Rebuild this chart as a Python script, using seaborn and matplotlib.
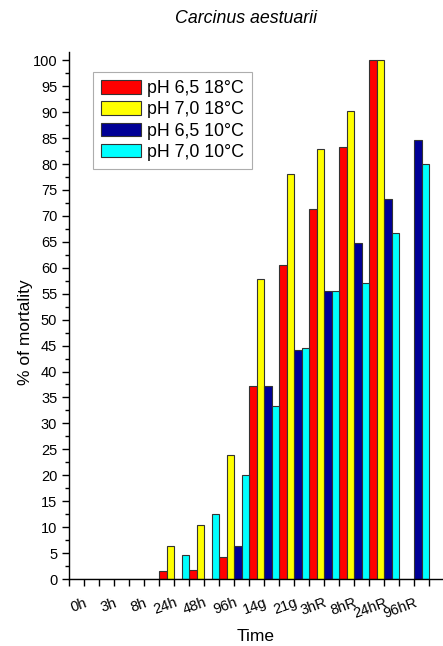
import numpy as np
import pandas as pd
import matplotlib
matplotlib.use("Agg")
import matplotlib.pyplot as plt
import seaborn as sns
from matplotlib.ticker import MultipleLocator, FixedLocator

# Data
times = ["0h", "3h", "8h", "24h", "48h", "96h", "14g", "21g", "3hR", "8hR", "24hR", "96hR"]
ph65_18 = [0, 0, 0, 1.5, 1.8, 4.2, 37.2, 60.5, 71.4, 83.3, 100, 0]
ph70_18 = [0, 0, 0, 6.3, 10.5, 24.0, 57.8, 78.0, 82.9, 90.3, 100, 0]
ph65_10 = [0, 0, 0, 0, 0, 6.3, 37.2, 44.2, 55.6, 64.7, 73.3, 84.6]
ph70_10 = [0, 0, 0, 4.7, 12.5, 20.0, 33.3, 44.5, 55.6, 57.1, 66.7, 80.0]

groups = ["pH 6,5 18°C", "pH 7,0 18°C", "pH 6,5 10°C", "pH 7,0 10°C"]
colors = ["#ff0000", "#ffff00", "#000096", "#00ffff"]

df = pd.DataFrame({
    "Time": times * 4,
    "mortality": ph65_18 + ph70_18 + ph65_10 + ph70_10,
    "group": [g for g in groups for _ in times],
})

sns.set_style("ticks")
plt.rcParams["font.family"] = ["Liberation Sans", "DejaVu Sans"]
plt.rcParams["text.color"] = "black"
plt.rcParams["axes.labelcolor"] = "black"

fig = plt.figure(figsize=(4.43, 6.46), dpi=100)
ax = fig.add_axes([0.156, 0.1037, 0.842, 0.8158])

sns.barplot(data=df, x="Time", y="mortality", hue="group", order=times,
            hue_order=groups, palette=colors, saturation=1, width=1.0, gap=0,
            edgecolor="#333333", linewidth=0.8, errorbar=None, ax=ax)

ax.set_xlim(-0.5, 11.93)
ax.set_ylim(0, 101.6)
ax.yaxis.set_major_locator(MultipleLocator(5))
ax.yaxis.set_minor_locator(MultipleLocator(2.5))
ax.xaxis.set_minor_locator(FixedLocator(np.arange(-0.5, 12.0, 1.0)))
ax.tick_params(axis="both", which="major", length=5, width=1, direction="out",
               labelsize=10.5, color="black", labelcolor="black")
ax.tick_params(axis="both", which="minor", length=3, width=1, direction="out",
               color="black")
ax.tick_params(axis="x", which="minor", length=5)
ax.tick_params(axis="x", which="major", pad=7)
plt.setp(ax.get_xticklabels(), rotation=20, ha="right", rotation_mode="anchor")

sns.despine(ax=ax)
for s in ["left", "bottom"]:
    ax.spines[s].set_color("black")
    ax.spines[s].set_linewidth(1)

ax.set_xlabel("Time", fontsize=12.5, va="center")
ax.xaxis.set_label_coords(0.501, -0.11)
ax.set_ylabel("% of mortality", fontsize=12.5)
ax.yaxis.set_label_coords(-0.0965, 0.469)

fig.text(0.555, 0.972, "Carcinus aestuarii", ha="center", va="center",
         fontsize=12.8, style="italic")

leg = ax.legend(loc="upper left", bbox_to_anchor=(0.065, 0.962), fontsize=12.8,
                frameon=True, fancybox=False, edgecolor="#999999",
                handlelength=2.25, handleheight=0.8, labelspacing=0.24,
                handletextpad=0.3, borderpad=0.45, borderaxespad=0)
leg.get_frame().set_linewidth(0.8)

fig.savefig("out.png", dpi=100)
